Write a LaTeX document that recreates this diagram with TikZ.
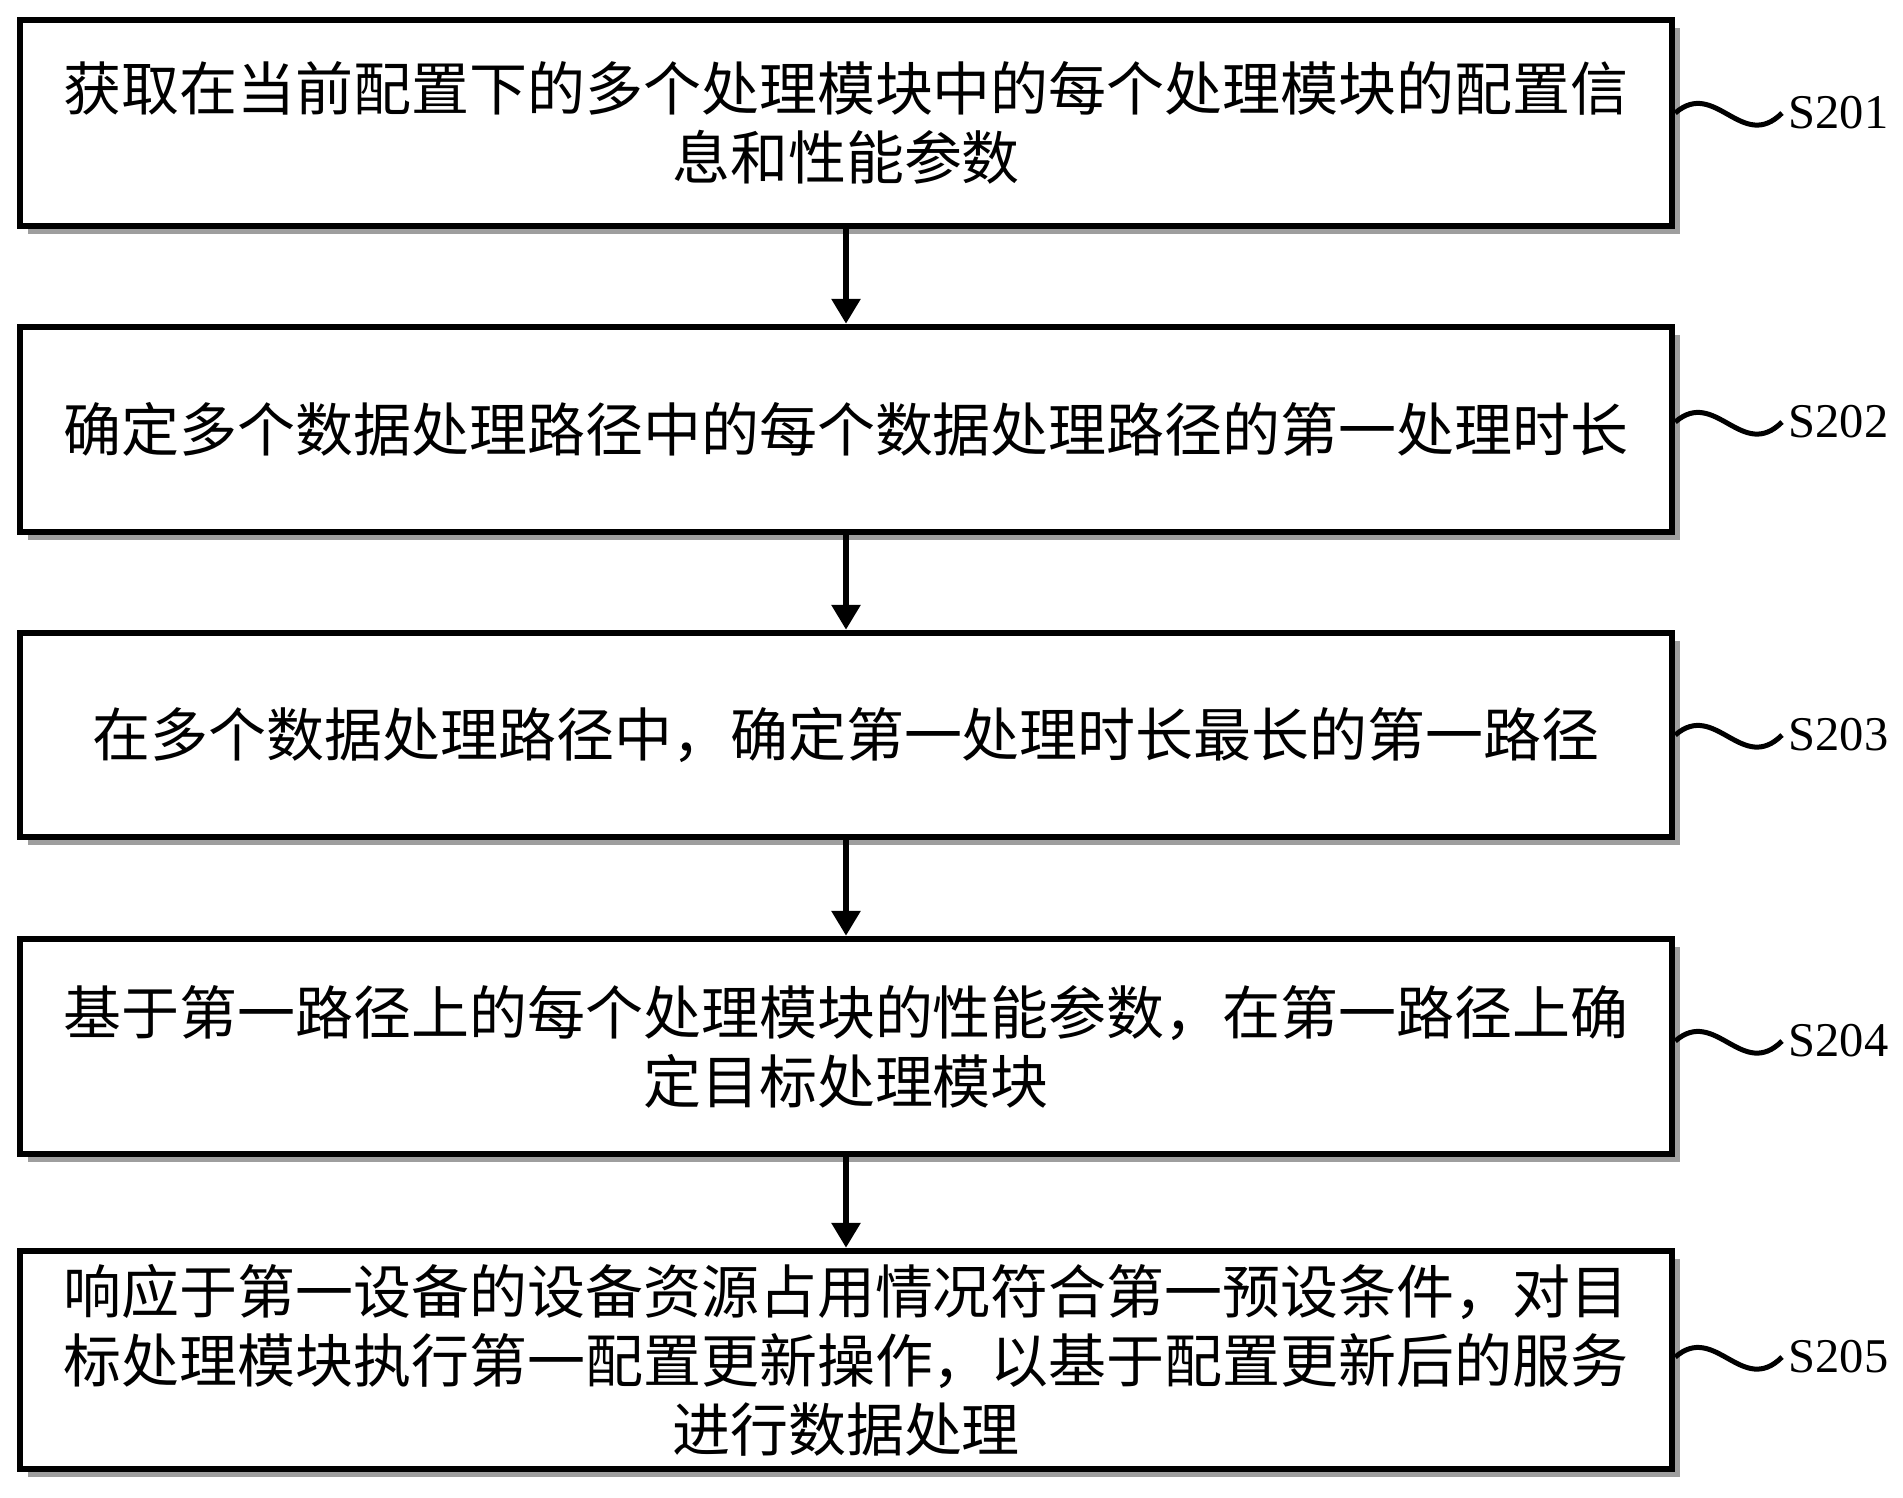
\documentclass[tikz,border=0pt]{standalone}
\usepackage{fontspec}
\setmainfont{Liberation Serif}
\newfontfamily\cjk{Noto Sans CJK SC}
\usetikzlibrary{arrows.meta,shadows}
\tikzset{
	stepbox/.style={draw,line width=0.065cm,fill=white,minimum width=16.52cm,inner sep=0pt,align=center,font=\cjk\fontsize{16.5pt}{19.6pt}\selectfont,drop shadow={shadow xshift=0.08cm,shadow yshift=-0.08cm,fill=black!38,opacity=1}},
	flow/.style={line width=0.06cm,-{Triangle[width=0.28cm,length=0.25cm]}},
	wave/.style={line width=0.05cm},
	steplabel/.style={anchor=west,inner sep=0pt,font=\fontsize{13.8pt}{16pt}\selectfont}
}
\begin{document}
\begin{tikzpicture}
			\useasboundingbox (0,0) rectangle (19.03,-14.97);
			\node[stepbox,minimum height=2.06cm] (b1) at (8.46,-1.23) {获取在当前配置下的多个处理模块中的每个处理模块的配置信\\息和性能参数};
			\node[stepbox,minimum height=2.05cm] (b2) at (8.46,-4.295) {确定多个数据处理路径中的每个数据处理路径的第一处理时长};
			\node[stepbox,minimum height=2.04cm] (b3) at (8.46,-7.35) {在多个数据处理路径中，确定第一处理时长最长的第一路径};
			\node[stepbox,minimum height=2.15cm] (b4) at (8.46,-10.465) {基于第一路径上的每个处理模块的性能参数，在第一路径上确\\定目标处理模块};
			\node[stepbox,minimum height=2.18cm] (b5) at (8.46,-13.60) {响应于第一设备的设备资源占用情况符合第一预设条件，对目\\标处理模块执行第一配置更新操作，以基于配置更新后的服务\\进行数据处理};
			\node[steplabel] (l1) at (17.88,-1.13) {S201};
			\node[steplabel] (l2) at (17.88,-4.22) {S202};
			\node[steplabel] (l3) at (17.88,-7.35) {S203};
			\node[steplabel] (l4) at (17.88,-10.41) {S204};
			\node[steplabel] (l5) at (17.88,-13.57) {S205};
			\draw[flow] (b1) -- (b2);
			\draw[flow] (b2) -- (b3);
			\draw[flow] (b3) -- (b4);
			\draw[flow] (b4) -- (b5);
			\draw[wave] (l1.west -| b1.east) .. controls +(0.4,0.35) and +(-0.4,-0.4) .. ([xshift=-0.06cm]l1.west);
			\draw[wave] (l2.west -| b2.east) .. controls +(0.4,0.35) and +(-0.4,-0.4) .. ([xshift=-0.06cm]l2.west);
			\draw[wave] (l3.west -| b3.east) .. controls +(0.4,0.35) and +(-0.4,-0.4) .. ([xshift=-0.06cm]l3.west);
			\draw[wave] (l4.west -| b4.east) .. controls +(0.4,0.35) and +(-0.4,-0.4) .. ([xshift=-0.06cm]l4.west);
			\draw[wave] (l5.west -| b5.east) .. controls +(0.4,0.35) and +(-0.4,-0.4) .. ([xshift=-0.06cm]l5.west);
		\end{tikzpicture}
\end{document}
